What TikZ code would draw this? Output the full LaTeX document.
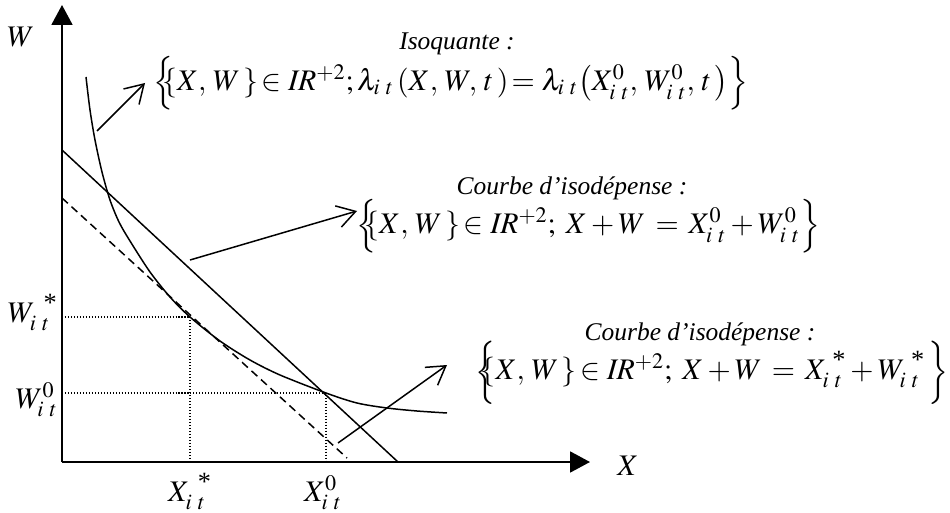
\documentclass[tikz,border=0pt]{standalone}
\usepackage{mathptmx}
\usepackage{graphicx}
\usepackage{fontspec}
\setmainfont{Liberation Serif}
\usetikzlibrary{arrows.meta}

\newcommand{\grand}{\fontsize{17}{20}\selectfont}
\newcommand{\moyen}{\fontsize{14.5}{17}\selectfont\itshape}
\newcommand{\ite}{i\mkern5mu t}
\newcommand{\etoile}{\mbox{\fontsize{15}{15}\selectfont *}}
\newcommand{\accol}[1]{\raisebox{-1.5pt}{\scalebox{1}[1.18]{$\Bigl#1$}}}

\begin{document}
\begin{tikzpicture}[x=0.02cm, y=-0.02cm,
  axe/.style={line width=1.1pt, -{Triangle[length=4mm, width=4.2mm]}},
  fleche/.style={line width=0.85pt, -{Straight Barb[length=3.6mm, width=4.4mm]}},
  courbe/.style={line width=0.85pt},
  repere/.style={line width=0.7pt, dash pattern=on 0.6pt off 1.1pt},
  formule/.style={font=\grand, inner sep=0pt}]
 \useasboundingbox (0,0) rectangle (950,513);

 % Axes
 \coordinate (O) at (62,462);
 \coordinate (Wbout) at (62,5);
 \coordinate (Xbout) at (590,462);
 \draw[axe] (O) -- (Wbout);
 \draw[axe] (O) -- (Xbout);
 \node[font=\grand] (W) at (21,37) {$W$};
 \node[font=\grand] (X) at (628,466) {$X$};

 % Droites d'isodepense
 \coordinate (A0) at (62,150);
 \coordinate (B0) at (398,462);
 \draw[courbe] (A0) -- (B0);
 \coordinate (As) at (62,198);
 \coordinate (Bs) at (347,458);
 \draw[courbe, dash pattern=on 4.5pt off 2.8pt] (As) -- (Bs);

 % Isoquante
 \draw[courbe] plot[smooth, tension=0.5] coordinates {(86,77) (90,110) (95,140) (102,172)
   (110,200) (119,222) (130,241) (150,272) (170,297) (190,317) (220,341) (250,360)
   (280,375) (326,393) (357,403) (387,408) (417,411) (447,413)};

 % Points optimaux
 \coordinate (Ps) at (190,317);
 \coordinate (P0) at (326,393);
 \coordinate (Wsa) at (62,317);
 \coordinate (Xsa) at (190,462);
 \coordinate (W0a) at (62,393);
 \coordinate (X0a) at (326,462);
 \draw[repere] (Wsa) -- (Ps) -- (Xsa);
 \draw[repere] (W0a) -- (P0) -- (X0a);

 % Valeurs sur les axes
 \node[formule, anchor=base east] (Ws) at (58,322) {$W^{\mkern7mu\etoile}_{\ite}$};
 \node[formule, anchor=base east] (W0) at (58,408) {$W^{0}_{\ite}$};
 \node[formule, anchor=base] (Xs) at (190,501) {$X^{\mkern7mu\etoile}_{\ite}$};
 \node[formule, anchor=base] (X0) at (323,501) {$X^{0}_{\ite}$};

 % Legendes
 \node[font=\moyen] (tiso) at (457,44) {Isoquante :};
 \node[formule] (fiso) at (451,83)
   {$\Bigl\{\mkern-7mu\{X,\, W\,\}\!\in \mathit{IR}^{+2};\lambda_{\ite}\,(X,\, W,\, t\,)\!=\lambda_{\ite}\bigl(X^{0}_{\ite},\, W^{0}_{\ite},\, t\,\bigr)\Bigr\}$};
 \node[font=\moyen] (tdep0) at (572,188) {Courbe d’isodépense :};
 \node[formule] (fdep0) at (588,226)
   {$\Bigl\{\mkern-7mu\{X,\, W\,\}\!\in \mathit{IR}^{+2};\; X + W\, =\, X^{0}_{\ite} + W^{0}_{\ite}\Bigr\}$};
 \node[font=\moyen] (tdeps) at (700,334) {Courbe d’isodépense :};
 \node[formule] (fdeps) at (712,373)
   {$\accol\{\mkern-9mu\{X,\, W\,\}\!\in \mathit{IR}^{+2};\; X + W\, =\, X^{\mkern5mu\etoile}_{\ite} + W^{\mkern5mu\etoile}_{\ite}\,\accol\}$};

 % Fleches vers les legendes
 \coordinate (f1a) at (97,131);
 \coordinate (f1b) at (145,83);
 \draw[fleche] (f1a) -- (f1b);
 \coordinate (f2a) at (190,260);
 \coordinate (f2b) at (357,211);
 \draw[fleche] (f2a) -- (f2b);
 \coordinate (f3a) at (338,443);
 \coordinate (f3b) at (447,365);
 \draw[fleche] (f3a) -- (f3b);
\end{tikzpicture}
\end{document}
